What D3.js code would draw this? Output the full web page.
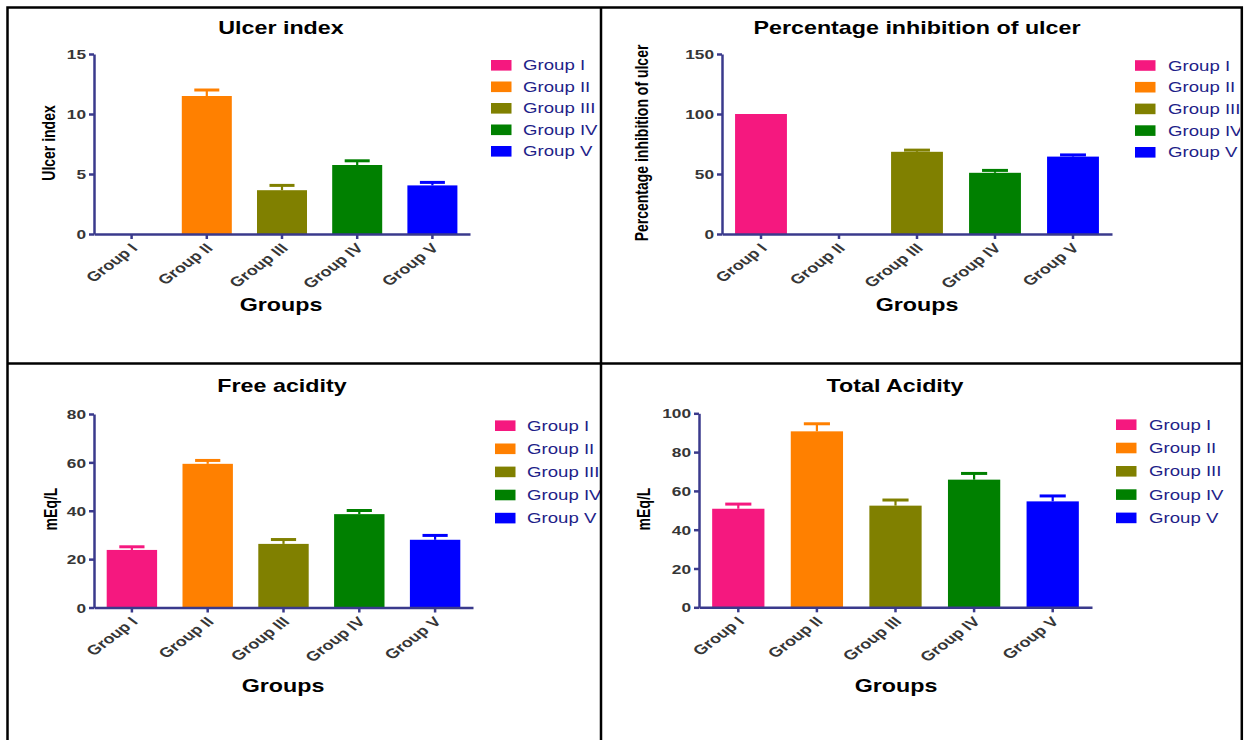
<!DOCTYPE html>
<html>
<head>
<meta charset="utf-8">
<script src="https://cdn.jsdelivr.net/npm/d3@7"></script>
<style>
  body { margin: 0; background: #fff; }
  svg { display: block; }
</style>
</head>
<body>
<svg id="chart" width="1244" height="740"></svg>
<script>
// data
const groups = ['Group I', 'Group II', 'Group III', 'Group IV', 'Group V'];
const colors = ['#f5187f', '#ff8000', '#808000', '#008000', '#0000ff'];

const ulcerMean = [0, 11.5, 3.65, 5.75, 4.05];
const ulcerErr = [0, 0.5, 0.4, 0.35, 0.25];
const ulcerTicks = [0, 5, 10, 15];

const inhibMean = [100, 0, 68.5, 51, 64.5];
const inhibErr = [0, 0, 1.4, 2, 1.4];
const inhibTicks = [0, 50, 100, 150];

const freeMean = [23.8, 59.4, 26.3, 38.6, 28.0];
const freeErr = [1.3, 1.4, 1.8, 1.5, 1.8];
const freeTicks = [0, 20, 40, 60, 80];

const totalMean = [50.8, 90.7, 52.4, 65.8, 54.6];
const totalErr = [2.4, 3.9, 2.9, 3.2, 2.8];
const totalTicks = [0, 20, 40, 60, 80, 100];

const FONT = '"Liberation Sans", Arial, Helvetica, sans-serif';
const SX = 1.33;           // the figure is stretched horizontally
const AXIS = '#3a3a8c';

const panels = [
  {title: 'Ulcer index', yTitle: 'Ulcer index', means: ulcerMean, errs: ulcerErr, ticks: ulcerTicks,
   x0: 94, x1: 470, yTop: 54, yBot: 234, titleX: 281, titleY: 34, yTitleX: 48.6, yTitleY: 143,
   groupsX: 281, groupsY: 311, legX: 491, legTextX: 523, legY: 65.3, legStep: 21.5},
  {title: 'Percentage inhibition of ulcer', yTitle: 'Percentage inhibition of ulcer', means: inhibMean, errs: inhibErr, ticks: inhibTicks,
   x0: 722, x1: 1112, yTop: 54, yBot: 234, titleX: 917, titleY: 34, yTitleX: 641, yTitleY: 143,
   groupsX: 917, groupsY: 311, legX: 1135, legTextX: 1168, legY: 65.5, legStep: 21.7},
  {title: 'Free acidity', yTitle: 'mEq/L', means: freeMean, errs: freeErr, ticks: freeTicks,
   x0: 94, x1: 473, yTop: 414, yBot: 607.5, titleX: 282, titleY: 392, yTitleX: 50, yTitleY: 509,
   groupsX: 283, groupsY: 692, legX: 495, legTextX: 527, legY: 425.7, legStep: 23.1},
  {title: 'Total Acidity', yTitle: 'mEq/L', means: totalMean, errs: totalErr, ticks: totalTicks,
   x0: 699, x1: 1092, yTop: 413.3, yBot: 607.3, titleX: 895, titleY: 392, yTitleX: 643, yTitleY: 509,
   groupsX: 896, groupsY: 692, legX: 1116, legTextX: 1149, legY: 424.7, legStep: 23.3}
];

const svg = d3.select('#chart');

svg.append('defs').append('clipPath')
  .attr('id', 'frame')
  .append('rect')
  .attr('x', 0).attr('y', 0)
  .attr('width', 1240).attr('height', 740);

const root = svg.append('g').attr('clip-path', 'url(#frame)');

function label(g, x, y, txt, o) {
  return g.append('text')
    .attr('transform', 'translate(' + x + ',' + y + ') scale(' + SX + ',1)' + (o.rotate ? ' rotate(' + o.rotate + ')' : ''))
    .attr('text-anchor', o.anchor || 'middle')
    .attr('dy', o.dy || null)
    .style('font-family', FONT)
    .style('font-size', o.size + 'px')
    .style('font-weight', o.weight || 'normal')
    .attr('fill', o.fill || '#000')
    .text(txt);
}

panels.forEach((p) => {
  let g = root.append('g');

  let x = d3.scaleBand().domain(groups).range([p.x0, p.x1])
    .paddingInner(0.335).paddingOuter(0.1675);
  let y = d3.scaleLinear().domain([0, d3.max(p.ticks)]).range([p.yBot, p.yTop]);
  let bw = x.bandwidth();

  let rows = groups.map((d, i) => ({g: d, m: p.means[i], e: p.errs[i], c: colors[i]}));

  // bars
  g.selectAll('rect.bar')
    .data(rows)
    .enter().append('rect')
    .attr('class', 'bar')
    .attr('x', (d) => x(d.g))
    .attr('width', bw)
    .attr('y', (d) => y(d.m))
    .attr('height', (d) => y(0) - y(d.m))
    .attr('fill', (d) => d.c);

  // error bars (upper half only)
  let eb = g.selectAll('g.err')
    .data(rows.filter((d) => d.e > 0))
    .enter().append('g')
    .attr('class', 'err');

  eb.append('line')
    .attr('x1', (d) => x(d.g) + bw / 2)
    .attr('x2', (d) => x(d.g) + bw / 2)
    .attr('y1', (d) => y(d.m))
    .attr('y2', (d) => y(d.m + d.e))
    .attr('stroke', (d) => d.c)
    .attr('stroke-width', 2.2);

  eb.append('line')
    .attr('x1', (d) => x(d.g) + bw / 4)
    .attr('x2', (d) => x(d.g) + bw * 3 / 4)
    .attr('y1', (d) => y(d.m + d.e))
    .attr('y2', (d) => y(d.m + d.e))
    .attr('stroke', (d) => d.c)
    .attr('stroke-width', 3);

  // axes
  let xa = g.append('g')
    .attr('transform', 'translate(0,' + p.yBot + ')')
    .call(d3.axisBottom(x).tickSize(5).tickSizeOuter(0));

  let ya = g.append('g')
    .attr('transform', 'translate(' + p.x0 + ',0)')
    .call(d3.axisLeft(y).tickValues(p.ticks).tickSize(5).tickSizeOuter(0).tickFormat(d3.format('d')));

  [xa, ya].forEach((a) => {
    a.select('.domain').attr('stroke', AXIS).attr('stroke-width', 2.5);
    a.selectAll('.tick line').attr('stroke', AXIS).attr('stroke-width', 2.5);
    a.selectAll('.tick text')
      .style('font-family', FONT)
      .style('font-weight', 'bold')
      .attr('fill', '#363636');
  });

  ya.selectAll('.tick text')
    .attr('x', null).attr('dy', '0.36em')
    .style('font-size', '13px')
    .attr('text-anchor', 'end')
    .attr('transform', 'translate(-8,0) scale(' + SX + ',1)');

  xa.selectAll('.tick text')
    .attr('y', null).attr('dy', null)
    .style('font-size', '13.5px')
    .attr('text-anchor', 'end')
    .attr('transform', 'translate(7,15) scale(' + SX + ',1) rotate(-45)');

  // titles
  label(g, p.titleX, p.titleY, p.title, {size: 17.5, weight: 'bold'});
  label(g, p.groupsX, p.groupsY, 'Groups', {size: 17.5, weight: 'bold'});
  label(g, p.yTitleX, p.yTitleY, p.yTitle, {size: 14, weight: 'bold', rotate: -90, dy: '0.35em'});

  // legend
  let leg = g.selectAll('g.leg')
    .data(rows)
    .enter().append('g')
    .attr('class', 'leg');

  leg.append('rect')
    .attr('x', p.legX)
    .attr('y', (d, i) => p.legY + i * p.legStep - 5.3)
    .attr('width', 20.5)
    .attr('height', 10.6)
    .attr('fill', (d) => d.c);

  leg.each(function (d, i) {
    label(d3.select(this), p.legTextX, p.legY + i * p.legStep, d.g,
      {size: 14, anchor: 'start', dy: '0.36em', fill: '#1e1e88'});
  });
});

// panel frames
let frame = svg.append('g')
  .attr('fill', 'none')
  .attr('stroke', '#000')
  .attr('stroke-width', 2.5);

frame.append('path').attr('d', 'M7.5,745 V7.5 H1241.8 V745');
frame.append('path').attr('d', 'M601,7.5 V745');
frame.append('path').attr('d', 'M7.5,363.5 H1241.8');
</script>
</body>
</html>
